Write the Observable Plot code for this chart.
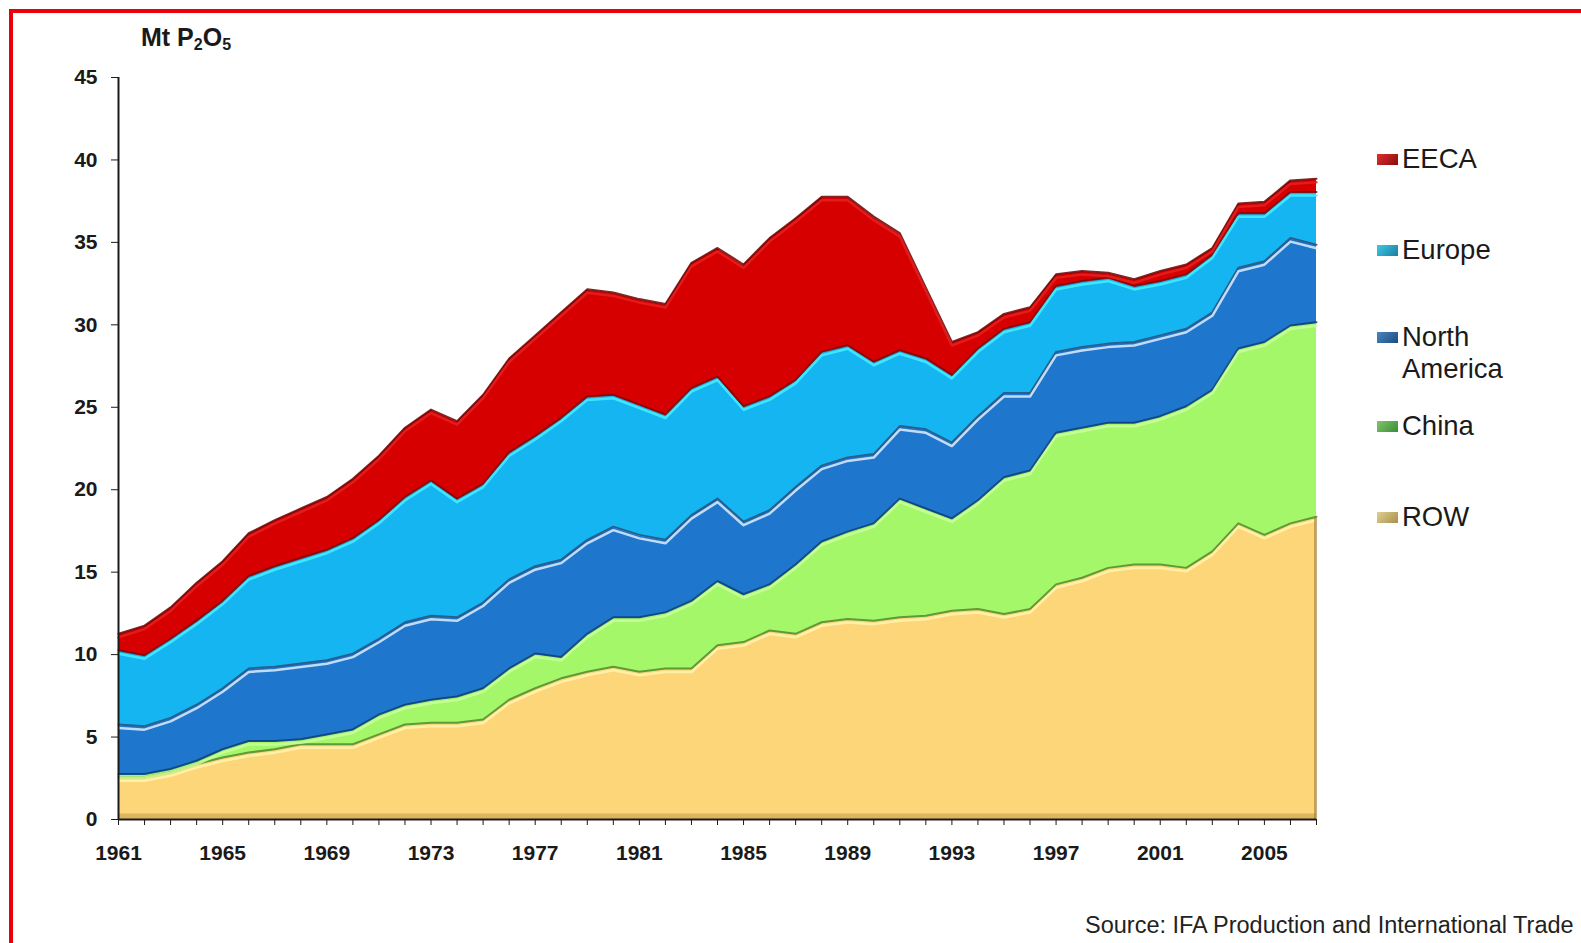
<!DOCTYPE html>
<html>
<head>
<meta charset="utf-8">
<script src="https://cdn.jsdelivr.net/npm/d3@7"></script>
<script src="https://cdn.jsdelivr.net/npm/@observablehq/plot@0.6"></script>
<style>
html,body{margin:0;padding:0;background:#fff;overflow:hidden;}
#wrap{position:relative;width:1581px;height:943px;font-family:"Liberation Sans",Arial,sans-serif;color:#1a1a1a;overflow:hidden;}
#frame{position:absolute;left:9px;top:9px;width:1700px;height:1100px;border-top:4px solid #e8000b;border-left:4px solid #e8000b;box-sizing:border-box;}
#chart{position:absolute;left:0;top:0;}
#chart svg{color:#1a1a1a;}
#chart svg text{font-weight:bold;font-size:21px;fill:#1a1a1a;}
.title{position:absolute;left:141px;top:23px;font-weight:bold;font-size:25px;white-space:nowrap;}
.title sub{font-size:16px;vertical-align:-4px;line-height:0;}
.leg{position:absolute;left:1377px;font-size:27.5px;line-height:32px;white-space:nowrap;}
.sw{position:absolute;left:0;width:21px;height:11px;}
.lt{position:absolute;left:25px;}
.source{position:absolute;left:1085px;top:912px;font-size:23.5px;white-space:nowrap;color:#222;}
</style>
</head>
<body>
<div id="wrap">
  <div id="frame"></div>
  <div id="chart"></div>
  <div class="title">Mt P<sub>2</sub>O<sub>5</sub></div>
  <div id="legend"></div>
  <div class="source">Source: IFA Production and International Trade</div>
</div>
<script>
// ---- Data (Mt P2O5) ----
const years = d3.range(1961, 2008);
const labelYears = [1961,1965,1969,1973,1977,1981,1985,1989,1993,1997,2001,2005];
const yTicks = [0,5,10,15,20,25,30,35,40,45];
const regions = ["ROW","China","North America","Europe","EECA"];

const row = [2.5,2.5,2.8,3.3,3.7,4.0,4.2,4.5,4.5,4.5,5.1,5.7,5.8,5.8,6.0,7.2,7.9,8.5,8.9,9.2,8.9,9.1,9.1,10.5,10.7,11.4,11.2,11.9,12.1,12.0,12.2,12.3,12.6,12.7,12.4,12.7,14.2,14.6,15.2,15.4,15.4,15.2,16.2,17.9,17.2,17.9,18.3];
const china = [0.2,0.2,0.2,0.2,0.5,0.7,0.5,0.3,0.6,0.9,1.2,1.2,1.4,1.6,1.9,1.9,2.1,1.3,2.3,3.0,3.3,3.4,4.1,3.9,2.9,2.8,4.2,4.9,5.3,5.9,7.2,6.5,5.6,6.6,8.3,8.4,9.2,9.1,8.8,8.6,9.0,9.8,9.8,10.6,11.7,12.0,11.8];
const northAmerica = [3.0,2.9,3.1,3.4,3.7,4.4,4.5,4.6,4.5,4.6,4.6,5.0,5.1,4.8,5.2,5.4,5.3,5.9,5.7,5.5,5.0,4.4,5.2,5.0,4.4,4.5,4.7,4.6,4.5,4.2,4.4,4.8,4.6,5.1,5.1,4.7,4.9,4.9,4.8,4.9,4.9,4.7,4.7,4.9,4.9,5.3,4.7];
const europe = [4.5,4.3,4.8,5.1,5.3,5.6,6.1,6.4,6.7,7.0,7.2,7.6,8.2,7.2,7.2,7.7,7.9,8.6,8.7,8.0,7.9,7.6,7.7,7.4,7.0,6.9,6.5,6.9,6.8,5.6,4.6,4.3,4.1,4.1,3.9,4.3,4.0,4.0,4.0,3.4,3.3,3.3,3.5,3.3,2.9,2.8,3.2];
const eeca = [1.0,1.8,1.9,2.3,2.4,2.6,2.8,3.0,3.2,3.6,3.9,4.2,4.3,4.7,5.4,5.7,6.1,6.4,6.5,6.2,6.4,6.7,7.6,7.8,8.6,9.6,9.8,9.4,9.0,8.8,7.1,4.3,2.0,1.0,0.9,0.9,0.7,0.6,0.3,0.4,0.6,0.6,0.4,0.6,0.7,0.7,0.8];

const seriesByRegion = {"ROW": row, "China": china, "North America": northAmerica, "Europe": europe, "EECA": eeca};

// ---- Styles ----
const fills = {"ROW":"#FDD67A","China":"#A5F76A","North America":"#1E76CD","Europe":"#14B5F0","EECA":"#D60000"};
const shadows = {"ROW":"#4E8A2C","China":"#0C3E78","North America":"#27507E","Europe":"#7E0606","EECA":"#6A0000"};
const highlights = {"ROW":"#FFF4AE","China":"#C9FF9C","North America":"#DDEEFF","Europe":"#46EEFF","EECA":"#E42020"};
const swatches = {
  "EECA":["#e03030","#8a0a0a"],
  "Europe":["#40c8e8","#1a7ea0"],
  "North America":["#4a86c0","#1d4c80"],
  "China":["#7cc86a","#3d8a3a"],
  "ROW":["#e0cf90","#a8904e"]
};

const table = years.flatMap((year, i) => regions.map(region => ({year, region, value: seriesByRegion[region][i]})));

const chart = Plot.plot({
  width: 1581,
  height: 943,
  marginLeft: 118,
  marginRight: 265,
  marginTop: 77,
  marginBottom: 124,
  x: {domain: [1961, 2007]},
  y: {domain: [0, 45]},
  color: {type: "identity"},
  style: {fontFamily: "Liberation Sans, Arial, sans-serif", background: "transparent", overflow: "visible"},
  marks: [
    Plot.areaY(table, {x: "year", y: "value", z: "region", order: regions, fill: d => fills[d.region]}),
    Plot.lineY(table, Plot.stackY2({x: "year", y: "value", z: "region", order: regions, stroke: d => shadows[d.region], strokeWidth: 2, dy: -1, strokeOpacity: 0.85})),
    Plot.lineY(table, Plot.stackY2({x: "year", y: "value", z: "region", order: regions, stroke: d => highlights[d.region], strokeWidth: 2.5, dy: 2.5, strokeOpacity: 0.85})),
    Plot.ruleY([0], {stroke: "#b88c3c", strokeWidth: 6, dy: -3, strokeOpacity: 0.45}),
    Plot.ruleX([2007], {y1: 0, y2: 18.3, stroke: "#a07a30", strokeWidth: 3, dx: -1, strokeOpacity: 0.6}),
    Plot.ruleY([0], {stroke: "#1a1a1a", strokeWidth: 2}),
    Plot.ruleX([1961], {stroke: "#1a1a1a", strokeWidth: 2}),
    Plot.axisY({ticks: yTicks, tickSize: 7, tickPadding: 14, label: null, fontSize: 21, fontWeight: "bold"}),
    Plot.axisX({ticks: years, tickFormat: d => labelYears.includes(d) ? String(d) : "", tickSize: 6, tickPadding: 20, label: null, fontSize: 21, fontWeight: "bold"})
  ]
});
document.getElementById("chart").appendChild(chart);

// ---- Legend ----
const legendItems = [
  {region: "EECA", lines: ["EECA"], y: 159},
  {region: "Europe", lines: ["Europe"], y: 250},
  {region: "North America", lines: ["North", "America"], y: 337},
  {region: "China", lines: ["China"], y: 426},
  {region: "ROW", lines: ["ROW"], y: 517}
];
const legend = document.getElementById("legend");
for (const item of legendItems) {
  const div = document.createElement("div");
  div.className = "leg";
  div.style.top = (item.y - 16) + "px";
  const sw = document.createElement("div");
  sw.className = "sw";
  sw.style.top = "11px";
  const [c1, c2] = swatches[item.region];
  sw.style.background = `linear-gradient(135deg, ${c1}, ${c2})`;
  div.appendChild(sw);
  const t = document.createElement("div");
  t.className = "lt";
  t.innerHTML = item.lines.join("<br>");
  div.appendChild(t);
  legend.appendChild(div);
}
</script>
</body>
</html>
